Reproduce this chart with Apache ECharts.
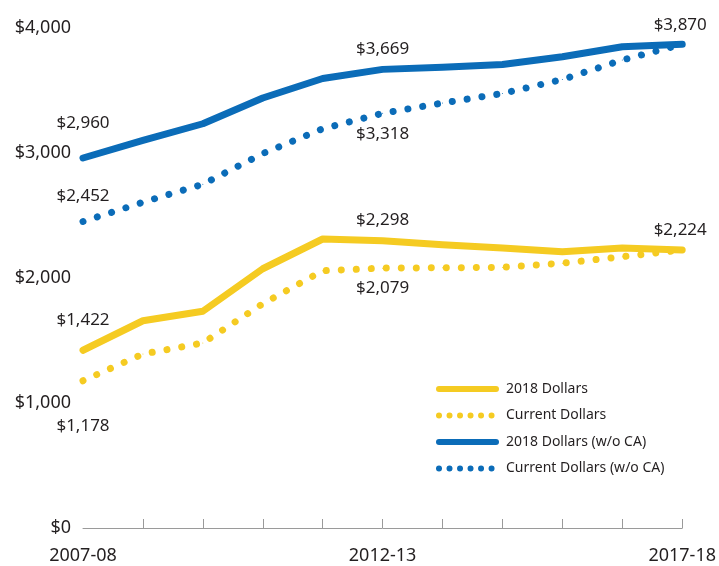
<!DOCTYPE html>
<html>
<head>
<meta charset="utf-8">
<script src="https://cdn.jsdelivr.net/npm/echarts@6/dist/echarts.min.js"></script>
<style>
  html, body { margin: 0; padding: 0; background: #fff; }
  #chart { width: 719px; height: 566px; }
</style>
</head>
<body>
<div id="chart"></div>
<script>
// categories (school years)
const years = ["2007-08", "2008-09", "2009-10", "2010-11", "2011-12", "2012-13",
  "2013-14", "2014-15", "2015-16", "2016-17", "2017-18"];

// series values
const realDollars = [1422, 1658, 1734, 2074, 2312, 2298, 2266, 2240, 2210, 2240, 2224];
const currentDollars = [1178, 1392, 1480, 1794, 2058, 2079, 2082, 2085, 2119, 2170, 2224];
const realNoCA = [2960, 3101, 3234, 3440, 3596, 3669, 3686, 3708, 3770, 3850, 3870];
const currentNoCA = [2452, 2606, 2750, 2996, 3194, 3318, 3400, 3476, 3588, 3744, 3870];

// value labels: index -> vertical offset of the text from the point
const realLabels = { 0: -30, 5: -21, 10: -20 };
const currentLabels = { 0: 45, 5: 20 };
const realNoCALabels = { 0: -35, 5: -20, 10: -19 };
const currentNoCALabels = { 0: -25, 5: 21 };

const yellow = "#f5cb22";
const blue = "#0b6cb8";
const textColor = "#231f20";

function fmt(v) {
  return "$" + v.toLocaleString("en-US");
}

function withLabels(values, labels) {
  return values.map((v, i) => {
    if (labels[i] === undefined) return v;
    return {
      value: v,
      label: {
        show: true,
        position: "inside",
        offset: [i === 10 ? -2 : 0, labels[i]],
        formatter: fmt(v),
        color: textColor,
        fontSize: 17,
        fontFamily: "Noto Sans",
      },
    };
  });
}

function lineSeries(name, values, labels, color, dotted) {
  return {
    name: name,
    type: "line",
    data: withLabels(values, labels),
    symbol: "circle",
    symbolSize: 1,
    itemStyle: { color: color },
    lineStyle: {
      color: color,
      width: 7,
      type: dotted ? [0.01, 15] : "solid",
      cap: "round",
      join: "round",
    },
    emphasis: { disabled: true },
    animation: false,
  };
}

// legend entry with its own line look
function legendItem(name, color, dotted) {
  return {
    name: name,
    itemStyle: { opacity: 0 },
    lineStyle: {
      color: color,
      width: 6,
      type: dotted ? [0.01, 10.5] : "solid",
      cap: "round",
    },
  };
}

const chart = echarts.init(document.getElementById("chart"));

chart.setOption({
  backgroundColor: "#fff",
  grid: {
    left: 83,
    right: 36,
    top: 28,
    bottom: 38,
  },
  legend: {
    orient: "vertical",
    left: 436,
    top: 382,
    padding: 0,
    itemWidth: 57,
    itemHeight: 14,
    itemGap: 12.5,
    itemStyle: { opacity: 0 },
    textStyle: {
      color: textColor,
      fontSize: 14,
      fontFamily: "Noto Sans",
      padding: [0, 0, 0, 5],
    },
    data: [
      legendItem("2018 Dollars", yellow, false),
      legendItem("Current Dollars", yellow, true),
      legendItem("2018 Dollars (w/o CA)", blue, false),
      legendItem("Current Dollars (w/o CA)", blue, true),
    ],
  },
  xAxis: {
    type: "category",
    data: years,
    boundaryGap: false,
    axisLine: { lineStyle: { color: "#9a9a9a", width: 1 } },
    axisTick: {
      inside: true,
      length: 9,
      interval: (i) => i > 0,
      lineStyle: { color: "#9a9a9a" },
    },
    axisLabel: {
      interval: 4,
      margin: 19,
      color: textColor,
      fontSize: 18,
      fontFamily: "Noto Sans",
    },
  },
  yAxis: {
    type: "value",
    min: 0,
    max: 4000,
    interval: 1000,
    axisLine: { show: false },
    axisTick: { show: false },
    splitLine: { show: false },
    axisLabel: {
      margin: 12,
      color: textColor,
      fontSize: 18,
      fontFamily: "Noto Sans",
      formatter: (v) => fmt(v),
    },
  },
  series: [
    lineSeries("2018 Dollars", realDollars, realLabels, yellow, false),
    lineSeries("Current Dollars", currentDollars, currentLabels, yellow, true),
    lineSeries("2018 Dollars (w/o CA)", realNoCA, realNoCALabels, blue, false),
    lineSeries("Current Dollars (w/o CA)", currentNoCA, currentNoCALabels, blue, true),
  ],
});
</script>
</body>
</html>
